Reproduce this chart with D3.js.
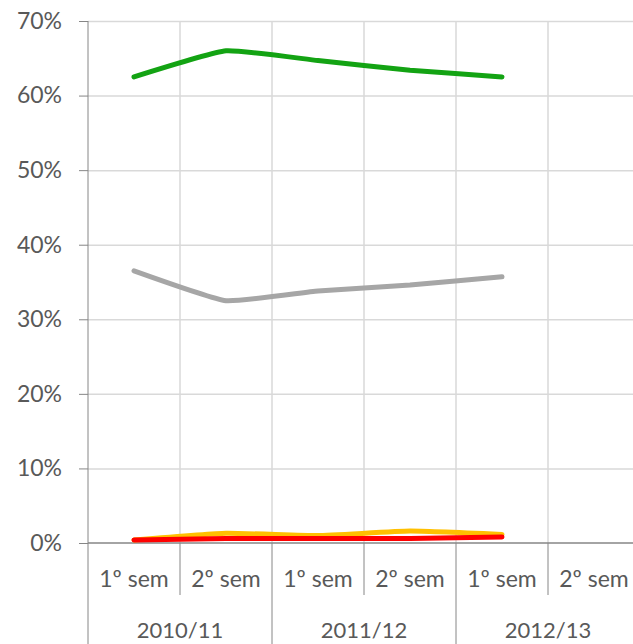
<!DOCTYPE html>
<html>
<head>
<meta charset="utf-8">
<script src="https://cdn.jsdelivr.net/npm/d3@7"></script>
<style>
  body { margin: 0; background: #fff; }
  svg { display: block; }
  .tick text { font-family: Lato, "Open Sans", sans-serif; }
</style>
</head>
<body>
<div id="chart"></div>
<script>
// categories (semesters) and years
var semesters = ["2010/11|1º sem", "2010/11|2º sem", "2011/12|1º sem", "2011/12|2º sem", "2012/13|1º sem", "2012/13|2º sem"];
var semLabels = ["1º sem", "2º sem", "1º sem", "2º sem", "1º sem", "2º sem"];
var years = ["2010/11", "2011/12", "2012/13"];
var yTicks = [0, 0.1, 0.2, 0.3, 0.4, 0.5, 0.6, 0.7];

// series values (first 5 semesters have data)
var greenValues  = [0.625, 0.660, 0.647, 0.634, 0.625];
var grayValues   = [0.365, 0.325, 0.338, 0.346, 0.357];
var orangeValues = [0.004, 0.013, 0.010, 0.016, 0.0115];
var redValues    = [0.004, 0.006, 0.006, 0.006, 0.008];

var seriesColors = ["#13a313", "#a6a6a6", "#ffc000", "#ff0000"];

// set the dimensions and margins of the graph
var margin = {top: 21, right: 0, bottom: 101, left: 88},
    width = 552,
    height = 522;

var svg = d3.select("#chart")
  .append("svg")
    .attr("width", 633)
    .attr("height", 644)
  .append("g")
    .attr("transform", "translate(" + margin.left + "," + margin.top + ")");

var x = d3.scaleBand()
  .domain(semesters)
  .range([0, width]);

var y = d3.scaleLinear()
  .domain([0, 0.7])
  .range([height, 0]);

// horizontal gridlines
svg.append("g")
  .call(d3.axisLeft(y).tickValues(yTicks.slice(1)).tickSize(-width).tickFormat(""))
  .call(function(g) {
    g.select(".domain").remove();
    g.selectAll(".tick line").attr("stroke", "#d9d9d9").attr("stroke-width", 1.5);
  });

// vertical gridlines at category boundaries
svg.append("g")
  .selectAll("line")
  .data(semesters.slice(1))
  .enter()
  .append("line")
    .attr("x1", function(d) { return x(d); })
    .attr("x2", function(d) { return x(d); })
    .attr("y1", 0)
    .attr("y2", height)
    .attr("stroke", "#d9d9d9")
    .attr("stroke-width", 1.5);

// y axis
svg.append("g")
  .call(d3.axisLeft(y).tickValues(yTicks).tickSize(9).tickPadding(17).tickFormat(d3.format(".0%")))
  .call(function(g) {
    g.select(".domain").attr("stroke", "#868686").attr("d", "M0,0V" + (height + 110));
    g.selectAll(".tick line").attr("stroke", "#868686");
    g.selectAll(".tick text").attr("fill", "#595959").style("font-size", "23px");
  });

// x axis line
svg.append("line")
  .attr("x1", 0).attr("x2", width)
  .attr("y1", height).attr("y2", height)
  .attr("stroke", "#868686")
  .attr("stroke-width", 1.5);

// dividers below the axis: short between semesters, long between years
svg.append("g")
  .selectAll("line")
  .data(semesters.slice(1))
  .enter()
  .append("line")
    .attr("x1", function(d) { return x(d); })
    .attr("x2", function(d) { return x(d); })
    .attr("y1", height)
    .attr("y2", function(d, i) { return i % 2 === 0 ? height + 52 : height + 110; })
    .attr("stroke", "#868686")
    .attr("stroke-width", 1);

// semester labels
svg.append("g")
  .selectAll("text")
  .data(semesters)
  .enter()
  .append("text")
    .attr("x", function(d) { return x(d) + x.bandwidth() / 2; })
    .attr("y", height + 44)
    .attr("text-anchor", "middle")
    .attr("fill", "#595959")
    .style("font-family", "Lato, 'Open Sans', sans-serif")
    .style("font-size", "23px")
    .text(function(d, i) { return semLabels[i]; });

// year labels
svg.append("g")
  .selectAll("text")
  .data(years)
  .enter()
  .append("text")
    .attr("x", function(d, i) { return x(semesters[i * 2 + 1]); })
    .attr("y", height + 95)
    .attr("text-anchor", "middle")
    .attr("fill", "#595959")
    .style("font-family", "Lato, 'Open Sans', sans-serif")
    .style("font-size", "22px")
    .text(function(d) { return d; });

// lines (smoothed, like the original)
var line = d3.line()
  .x(function(d, i) { return x(semesters[i]) + x.bandwidth() / 2; })
  .y(function(d) { return y(d); })
  .curve(d3.curveCardinal.tension(0.6));

var allSeries = [greenValues, grayValues, orangeValues, redValues];

svg.append("g")
  .selectAll("path")
  .data(allSeries)
  .enter()
  .append("path")
    .attr("d", function(d) { return line(d); })
    .attr("fill", "none")
    .attr("stroke", function(d, i) { return seriesColors[i]; })
    .attr("stroke-width", 5)
    .attr("stroke-linecap", "round")
    .attr("stroke-linejoin", "round");
</script>
</body>
</html>
